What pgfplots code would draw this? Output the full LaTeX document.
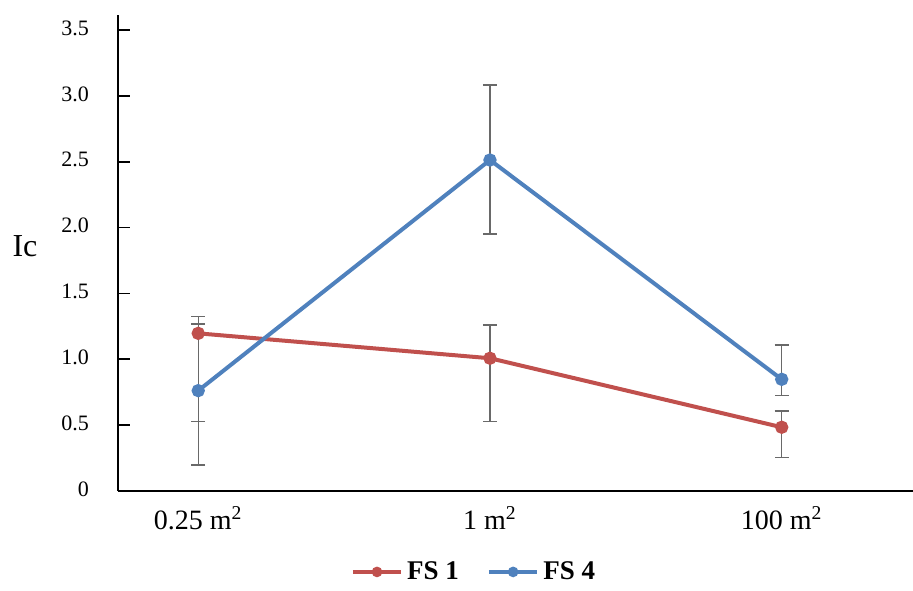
\documentclass[border=0pt]{standalone}
\usepackage{fontspec}
\setmainfont{Liberation Serif}
\usepackage{pgfplots}
\pgfplotsset{compat=1.18}

\definecolor{fsred}{RGB}{192,80,77}
\definecolor{fsblue}{RGB}{79,129,189}
\definecolor{errgray}{RGB}{105,105,105}

\begin{document}
\begin{tikzpicture}
    \begin{axis}[
        name               = ax,
        scale only axis,
        width              = 397.5pt,
        height             = 238pt,
        xmin               = -0.275,
        xmax               = 2.45,
        ymin               = 0,
        ymax               = 3.614,
        axis x line*       = bottom,
        axis y line*       = left,
        axis line style    = {line width=0.8pt, black},
        xtick              = {0, 1, 2},
        xticklabels        = {0.25 m\textsuperscript{2}, 1 m\textsuperscript{2}, 100 m\textsuperscript{2}},
        xtick style        = {draw=none},
        xticklabel style   = {font=\fontsize{14}{16}\selectfont, yshift=-4pt},
        ytick              = {0, 0.5, 1, 1.5, 2, 2.5, 3, 3.5},
        yticklabels        = {0, 0.5, 1.0, 1.5, 2.0, 2.5, 3.0, 3.5},
        ytick pos          = left,
        tick align         = inside,
        major tick length  = 5.8pt,
        ytick style        = {line width=0.8pt, black},
        yticklabel style   = {font=\fontsize{11}{13}\selectfont, xshift=-11pt, yshift=1pt},
        ylabel             = {Ic},
        ylabel style       = {rotate=-90, font=\fontsize{16}{18}\selectfont,
                              at={(axis description cs:-0.117,0.515)}, anchor=center},
        legend columns     = 2,
        legend style       = {draw=none, fill=none,
                              at={(axis description cs:0.449,-0.170)}, anchor=center,
                              font=\bfseries\fontsize{13.5}{15}\selectfont,
                              /tikz/every even column/.append style={column sep=12pt}},
        legend image code/.code = {
            \draw[#1, mark=none] (0cm,0cm) -- (0.85cm,0cm);
            \draw[#1, only marks, mark size=1.6pt] plot coordinates {(0.425cm,0cm)};
        },
        /pgf/number format/assume math mode = true,
        every axis plot/.append style = {line width=2pt, mark=*, mark size=2.3pt},
        error bars/y dir      = both,
        error bars/y explicit,
        error bars/error bar style   = {errgray, line width=0.7pt},
        error bars/error mark options = {errgray, line width=0.7pt, mark size=3.5pt, rotate=90},
    ]

        % FS 1
        \addplot[color=fsred, mark options={fill=fsred}]
            coordinates {
                (0, 1.197) += (0, 0.070) -= (0, 0.671)
                (1, 1.008) += (0, 0.252) -= (0, 0.482)
                (2, 0.484) += (0, 0.123) -= (0, 0.231)
            };
        \addlegendentry{FS 1}

        % FS 4
        \addplot[color=fsblue, mark options={fill=fsblue}]
            coordinates {
                (0, 0.762) += (0, 0.565) -= (0, 0.565)
                (1, 2.513) += (0, 0.570) -= (0, 0.562)
                (2, 0.848) += (0, 0.261) -= (0, 0.124)
            };
        \addlegendentry{FS 4}
    \end{axis}
    \pgfresetboundingbox
    \path (-59pt, -49.5pt) rectangle (397.5pt, 245.5pt);
\end{tikzpicture}
\end{document}
